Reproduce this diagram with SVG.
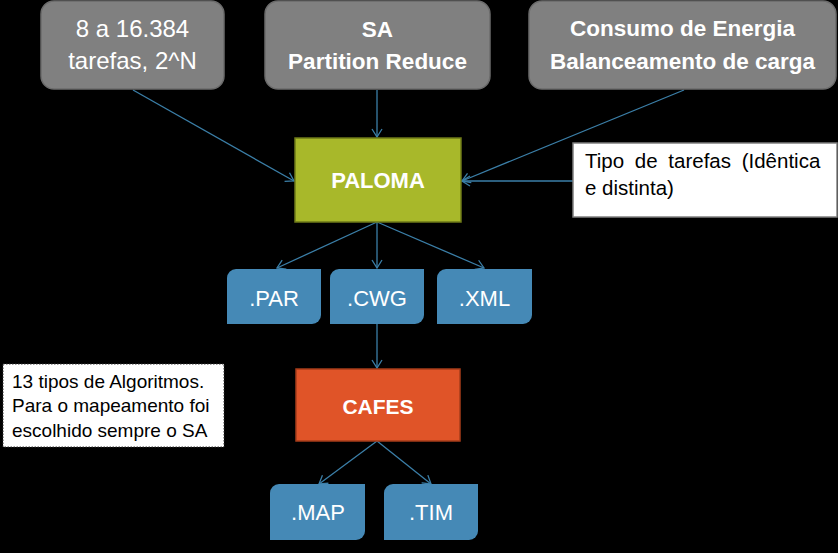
<svg xmlns="http://www.w3.org/2000/svg" width="838" height="553" viewBox="0 0 838 553">
<defs>
<style>
.gray{fill:#808080;stroke:#6b6b6b;stroke-width:1.5}
.blue{fill:#4589b6;stroke:none}
.wt{fill:#fff;font-family:"Liberation Sans",Arial,sans-serif;text-anchor:middle}
.b{font-weight:bold}
.bk{fill:#000;font-family:"Liberation Sans",Arial,sans-serif}
.conn{stroke:#3b7fa8;stroke-width:1.3;fill:none}
</style>
<marker id="arr" viewBox="0 0 12 12" refX="11" refY="6" markerWidth="12" markerHeight="12" markerUnits="userSpaceOnUse" orient="auto">
<polyline points="3,1 11,6 3,11" fill="none" stroke="#3b7fa8" stroke-width="1.3"/>
</marker>
</defs>
<rect width="838" height="553" fill="#000"/>

<g id="connectors" class="conn">
<line x1="133" y1="90" x2="294" y2="181" marker-end="url(#arr)"/>
<line x1="377" y1="90" x2="377" y2="137" marker-end="url(#arr)"/>
<line x1="684" y1="90" x2="462" y2="181" marker-end="url(#arr)"/>
<line x1="573" y1="181" x2="462" y2="181" marker-end="url(#arr)"/>
<line x1="377" y1="222" x2="277" y2="268" marker-end="url(#arr)"/>
<line x1="377" y1="222" x2="377" y2="268" marker-end="url(#arr)"/>
<line x1="377" y1="222" x2="484" y2="268" marker-end="url(#arr)"/>
<line x1="377" y1="324" x2="377" y2="368" marker-end="url(#arr)"/>
<line x1="377" y1="441" x2="319" y2="484" marker-end="url(#arr)"/>
<line x1="377" y1="441" x2="431" y2="484" marker-end="url(#arr)"/>
</g>

<g id="n-tarefas">
<rect class="gray" x="41" y="1" width="183" height="88" rx="13"/>
<text class="wt" x="132.5" y="37" font-size="24">8 a 16.384</text>
<text class="wt" x="132.5" y="69" font-size="24">tarefas, 2^N</text>
</g>
<g id="n-sa">
<rect class="gray" x="265" y="1" width="225" height="88" rx="13"/>
<text class="wt b" x="377.5" y="37" font-size="22.5">SA</text>
<text class="wt b" x="377.5" y="69" font-size="22.5">Partition Reduce</text>
</g>
<g id="n-consumo">
<rect class="gray" x="529" y="1" width="307" height="88" rx="13"/>
<text class="wt b" x="682.5" y="36" font-size="22.5">Consumo de Energia</text>
<text class="wt b" x="682.5" y="69" font-size="22.5">Balanceamento de carga</text>
</g>
<g id="n-paloma">
<rect x="295" y="138" width="166" height="84" fill="#a8b82a" stroke="#6e7a18" stroke-width="1.5"/>
<text class="wt b" x="378" y="188" font-size="22">PALOMA</text>
</g>
<g id="n-tipo">
<rect x="573" y="143" width="264" height="74" fill="#fff" stroke="#7f7f7f" stroke-width="1.5"/>
<text class="bk" x="585" y="168" font-size="20.5" word-spacing="5">Tipo de tarefas (Idêntica</text>
<text class="bk" x="585" y="195" font-size="20.5">e distinta)</text>
</g>
<g id="n-par">
<path class="blue" d="M236,269 H321 V315 A9,9 0 0 1 312,324 H227 V278 A9,9 0 0 1 236,269 Z"/>
<text class="wt" x="274" y="306" font-size="22">.PAR</text>
</g>
<g id="n-cwg">
<path class="blue" d="M339,269 H424 V315 A9,9 0 0 1 415,324 H330 V278 A9,9 0 0 1 339,269 Z"/>
<text class="wt" x="377" y="306" font-size="22">.CWG</text>
</g>
<g id="n-xml">
<path class="blue" d="M446,269 H532 V315 A9,9 0 0 1 523,324 H437 V278 A9,9 0 0 1 446,269 Z"/>
<text class="wt" x="484.5" y="306" font-size="22">.XML</text>
</g>
<g id="n-algoritmos">
<rect x="3" y="364" width="221" height="83" fill="#fff" stroke="#333" stroke-width="1" stroke-dasharray="1.5,1.5"/>
<text class="bk" x="12" y="388" font-size="19">13 tipos de Algoritmos.</text>
<text class="bk" x="12" y="412" font-size="19">Para o mapeamento foi</text>
<text class="bk" x="12" y="437" font-size="19">escolhido sempre o SA</text>
</g>
<g id="n-cafes">
<rect x="296" y="369" width="164" height="72" fill="#e05428" stroke="#a63c1a" stroke-width="1.5"/>
<text class="wt b" x="378" y="414" font-size="21">CAFES</text>
</g>
<g id="n-map">
<path class="blue" d="M279,484 H365 V531 A9,9 0 0 1 356,540 H270 V493 A9,9 0 0 1 279,484 Z"/>
<text class="wt" x="318" y="520" font-size="22">.MAP</text>
</g>
<g id="n-tim">
<path class="blue" d="M393,484 H478 V531 A9,9 0 0 1 469,540 H384 V493 A9,9 0 0 1 393,484 Z"/>
<text class="wt" x="431" y="520" font-size="22">.TIM</text>
</g>
</svg>
